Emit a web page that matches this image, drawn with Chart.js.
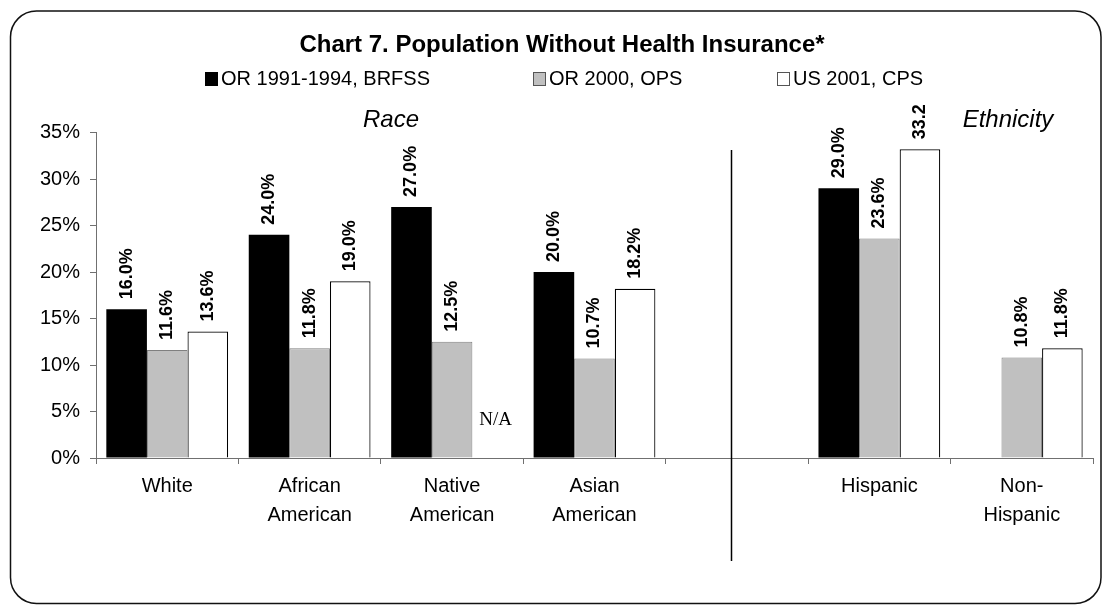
<!DOCTYPE html>
<html>
<head>
<meta charset="utf-8">
<script src="https://cdn.jsdelivr.net/npm/chart.js@4/dist/chart.umd.min.js"></script>
<style>
  html, body { margin: 0; padding: 0; background: #fff; }
  canvas { display: block; }
</style>
</head>
<body>
<canvas id="uninsuredChart" width="1103" height="605"></canvas>
<script>
// Chart data
const categories = [['White'], ['African', 'American'], ['Native', 'American'], ['Asian', 'American'], '', ['Hispanic'], ['Non-', 'Hispanic']];
const seriesNames = ['OR 1991-1994, BRFSS', 'OR 2000, OPS', 'US 2001, CPS'];
const brfss = [16.0, 24.0, 27.0, 20.0, null, 29.0, null];
const ops = [11.6, 11.8, 12.5, 10.7, null, 23.6, 10.8];
const cps = [13.6, 19.0, null, 18.2, null, 33.2, 11.8];
// labels as printed above the bars (33.2 lost its % in the original)
const brfssLabels = ['16.0%', '24.0%', '27.0%', '20.0%', '', '29.0%', ''];
const opsLabels = ['11.6%', '11.8%', '12.5%', '10.7%', '', '23.6%', '10.8%'];
const cpsLabels = ['13.6%', '19.0%', 'N/A', '18.2%', '', '33.2', '11.8%'];
const yMax = 35;
const yStep = 5;

const FONT = "'Liberation Sans', Arial, sans-serif";
Chart.defaults.font.family = FONT;
Chart.defaults.color = '#000';

// frame, title, legend, group headers, divider
const decorations = {
  id: 'decorations',
  beforeDraw(chart) {
    const ctx = chart.ctx;
    ctx.save();
    ctx.fillStyle = '#fff';
    ctx.fillRect(0, 0, chart.width, chart.height);
    ctx.strokeStyle = '#111';
    ctx.lineWidth = 1.5;
    ctx.beginPath();
    ctx.roundRect(10.5, 11, 1090.5, 592.5, 26);
    ctx.stroke();
    ctx.restore();
  },
  afterDraw(chart) {
    const ctx = chart.ctx;
    const xs = chart.scales.x;
    const ys = chart.scales.y;
    ctx.save();
    ctx.fillStyle = '#000';
    ctx.textBaseline = 'alphabetic';

    ctx.font = 'bold 24px ' + FONT;
    ctx.textAlign = 'center';
    ctx.fillText('Chart 7. Population Without Health Insurance*', 562, 52);

    // legend
    const boxX = [205, 533, 777];
    ctx.font = '20px ' + FONT;
    ctx.textAlign = 'left';
    chart.data.datasets.forEach((ds, i) => {
      ctx.fillStyle = ds.backgroundColor;
      ctx.fillRect(boxX[i], 72, 12, 13);
      ctx.strokeStyle = ds.legendBorder;
      ctx.lineWidth = 1;
      ctx.strokeRect(boxX[i] + 0.5, 72.5, 12, 13);
      ctx.fillStyle = '#000';
      ctx.fillText(ds.label, boxX[i] + 16, 85);
    });

    ctx.font = 'italic 24px ' + FONT;
    ctx.textAlign = 'center';
    ctx.fillText('Race', 391, 127);
    ctx.fillText('Ethnicity', 1008, 127);

    // divider between race and ethnicity groups
    const divX = Math.round(xs.getPixelForValue(4) - 6) + 0.5;
    ctx.strokeStyle = '#000';
    ctx.lineWidth = 1.5;
    ctx.beginPath();
    ctx.moveTo(divX, 150);
    ctx.lineTo(divX, 561);
    ctx.stroke();

    // value labels, rotated
    chart.data.datasets.forEach((ds, i) => {
      const meta = chart.getDatasetMeta(i);
      meta.data.forEach((bar, j) => {
        const txt = ds.valueLabels[j];
        if (!txt) return;
        if (ds.data[j] === null) {
          // missing value note
          const slot = meta.data[j].width || (xs.width / categories.length) * 0.855 / 3;
          ctx.font = '19px "Liberation Serif", "Times New Roman", serif';
          ctx.textAlign = 'center';
          ctx.fillText(txt, xs.getPixelForValue(j) + slot + 3, 425);
          return;
        }
        ctx.save();
        ctx.translate(bar.x, bar.y - 10);
        ctx.rotate(-Math.PI / 2);
        ctx.font = 'bold 18px ' + FONT;
        ctx.textAlign = 'left';
        ctx.textBaseline = 'middle';
        ctx.fillText(txt, 0, 0);
        ctx.restore();
      });
    });
    ctx.restore();
  }
};

new Chart(document.getElementById('uninsuredChart').getContext('2d'), {
  type: 'bar',
  data: {
    labels: categories,
    datasets: [
      { label: seriesNames[0], data: brfss, valueLabels: brfssLabels, backgroundColor: '#000', borderColor: '#000', legendBorder: '#000', borderWidth: 0 },
      { label: seriesNames[1], data: ops, valueLabels: opsLabels, backgroundColor: '#c0c0c0', borderColor: '#808080', legendBorder: '#555', borderWidth: 1 },
      { label: seriesNames[2], data: cps, valueLabels: cpsLabels, backgroundColor: '#fff', borderColor: '#000', legendBorder: '#555', borderWidth: 1.2 }
    ]
  },
  options: {
    responsive: false,
    animation: false,
    devicePixelRatio: 1,
    categoryPercentage: 0.855,
    barPercentage: 1.0,
    layout: { padding: { left: 10, right: 10, top: 132.5, bottom: 0 } },
    plugins: {
      legend: { display: false },
      title: { display: false },
      tooltip: { enabled: false }
    },
    scales: {
      x: {
        grid: { display: true, drawOnChartArea: false, offset: true, color: '#707070', tickLength: 6 },
        border: { color: '#707070', width: 1 },
        ticks: { font: { size: 20, lineHeight: 1.45 }, padding: 8, maxRotation: 0, autoSkip: false, color: '#000' },
        afterFit(s) { s.height = 147; }
      },
      y: {
        min: 0,
        max: yMax,
        grid: { display: true, drawOnChartArea: false, color: '#707070', tickLength: 6 },
        border: { color: '#707070', width: 1 },
        ticks: { stepSize: yStep, font: { size: 20 }, padding: 10, color: '#000', callback: v => v + '%' },
        afterFit(s) { s.width = 86; }
      }
    }
  },
  plugins: [decorations]
});
</script>
</body>
</html>
